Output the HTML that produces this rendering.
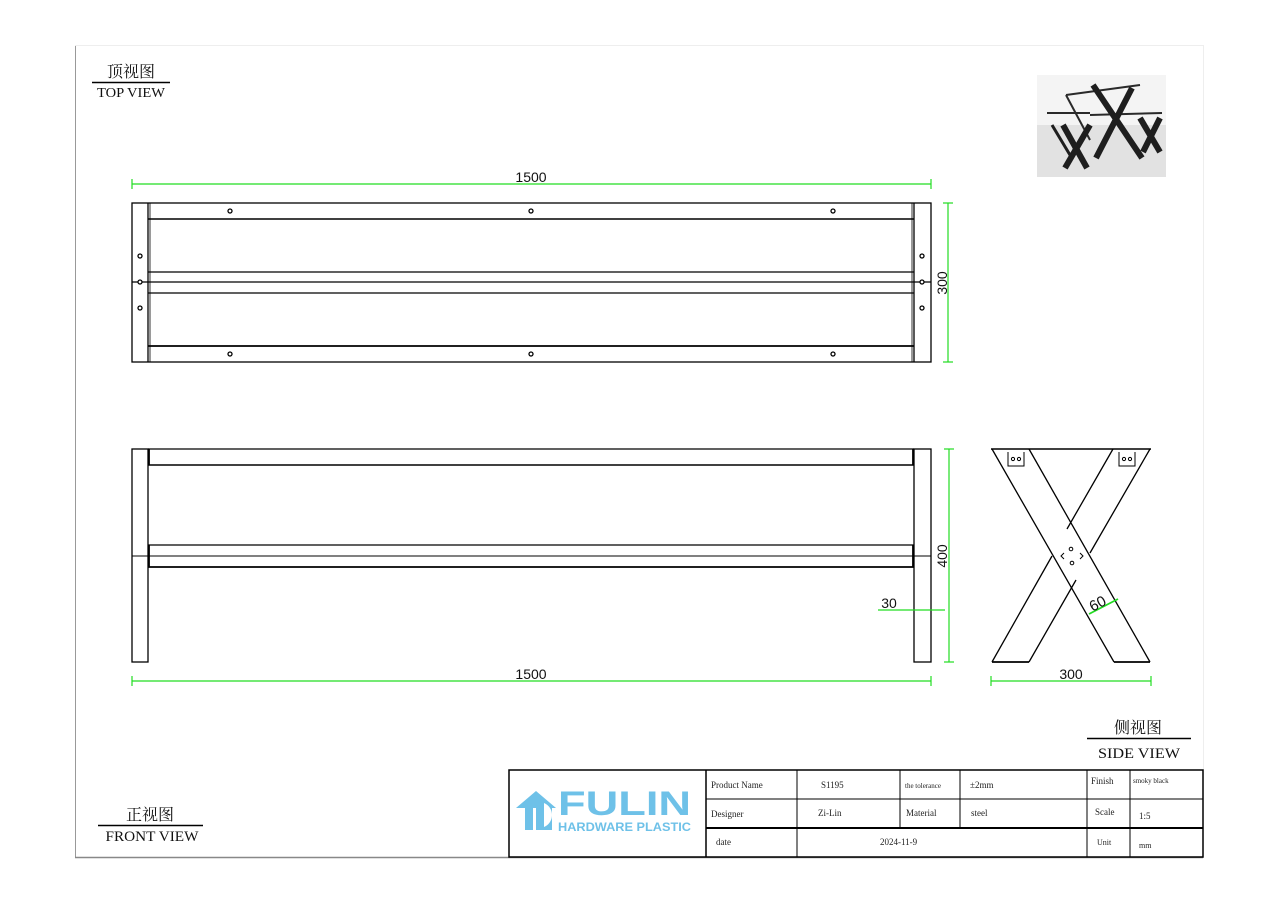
<!DOCTYPE html>
<html><head><meta charset="utf-8"><style>
html,body{margin:0;padding:0;background:#fff;}
svg{display:block;}
</style></head><body>
<svg width="1280" height="905" viewBox="0 0 1280 905" xmlns="http://www.w3.org/2000/svg" font-family="Liberation Sans, sans-serif">
<rect width="1280" height="905" fill="#fff"/>
<line x1="75.5" y1="45" x2="75.5" y2="857" stroke="#999" stroke-width="1"/>
<line x1="75" y1="45.5" x2="1203" y2="45.5" stroke="#eee" stroke-width="1"/>
<line x1="75" y1="857.5" x2="1203" y2="857.5" stroke="#888" stroke-width="1.5"/>
<line x1="1203.5" y1="45" x2="1203.5" y2="770" stroke="#eee" stroke-width="1"/>

<g font-family="Liberation Serif, Noto Serif CJK SC, serif" fill="#111">
<text x="131" y="77" font-size="16" text-anchor="middle" font-family="Noto Serif CJK SC, serif">顶视图</text>
<line x1="92" y1="82.5" x2="170" y2="82.5" stroke="#000" stroke-width="1.5"/>
<text x="131" y="97" font-size="14" text-anchor="middle" textLength="68" lengthAdjust="spacingAndGlyphs">TOP VIEW</text>
<text x="1138" y="733" font-size="16" text-anchor="middle" font-family="Noto Serif CJK SC, serif">侧视图</text>
<line x1="1087" y1="738.5" x2="1191" y2="738.5" stroke="#000" stroke-width="1.5"/>
<text x="1139" y="758" font-size="15" text-anchor="middle" textLength="82" lengthAdjust="spacingAndGlyphs">SIDE VIEW</text>
<text x="150" y="820" font-size="16" text-anchor="middle" font-family="Noto Serif CJK SC, serif">正视图</text>
<line x1="98" y1="825.5" x2="203" y2="825.5" stroke="#000" stroke-width="1.5"/>
<text x="152" y="841" font-size="15" text-anchor="middle" textLength="93" lengthAdjust="spacingAndGlyphs">FRONT VIEW</text>
</g>

<!-- photo -->
<g>
<rect x="1037" y="75" width="129" height="102" fill="#f4f4f4"/>
<rect x="1037" y="125" width="129" height="52" fill="#e2e2e2"/>
<g stroke="#2a2a2a" stroke-width="2" fill="none">
<line x1="1066" y1="95" x2="1140" y2="85"/>
<line x1="1047" y1="113" x2="1090" y2="113"/>
<line x1="1090" y1="115" x2="1162" y2="113"/>
<line x1="1066" y1="95" x2="1090" y2="140"/>
</g>
<g stroke="#1e1e1e" stroke-width="6" fill="none" stroke-linecap="butt">
<line x1="1093" y1="85" x2="1142" y2="158"/>
<line x1="1132" y1="88" x2="1096" y2="158"/>
<line x1="1063" y1="125" x2="1087" y2="168"/>
<line x1="1090" y1="125" x2="1065" y2="168"/>
<line x1="1140" y1="118" x2="1160" y2="152"/>
<line x1="1160" y1="118" x2="1143" y2="152"/>
<line x1="1052" y1="125" x2="1070" y2="155" stroke-width="3"/>
</g>
</g>

<!-- TOP VIEW -->
<g stroke="#000" fill="none" stroke-width="1.3">
<rect x="132" y="203" width="799" height="159"/>
<line x1="148" y1="203" x2="148" y2="362"/>
<line x1="150" y1="203" x2="150" y2="362" stroke-width="0.8"/>
<line x1="914" y1="203" x2="914" y2="362"/>
<line x1="912" y1="203" x2="912" y2="362" stroke-width="0.8"/>
<line x1="148" y1="219" x2="914" y2="219" stroke-width="1.6"/>
<line x1="148" y1="272" x2="914" y2="272"/>
<line x1="132" y1="282" x2="931" y2="282"/>
<line x1="148" y1="293" x2="914" y2="293"/>
<line x1="148" y1="346" x2="914" y2="346" stroke-width="1.8"/>
</g>
<g stroke="#000" fill="#fff" stroke-width="1.3">
<circle cx="230" cy="211" r="2"/><circle cx="531" cy="211" r="2"/><circle cx="833" cy="211" r="2"/>
<circle cx="230" cy="354" r="2"/><circle cx="531" cy="354" r="2"/><circle cx="833" cy="354" r="2"/>
<circle cx="140" cy="256" r="2"/><circle cx="140" cy="282" r="2"/><circle cx="140" cy="308" r="2"/>
<circle cx="922" cy="256" r="2"/><circle cx="922" cy="282" r="2"/><circle cx="922" cy="308" r="2"/>
</g>

<!-- FRONT VIEW -->
<g stroke="#000" fill="none" stroke-width="1.3">
<rect x="132" y="449" width="16" height="213"/>
<rect x="914" y="449" width="17" height="213"/>
<line x1="148" y1="449" x2="914" y2="449"/>
<line x1="148" y1="465" x2="914" y2="465" stroke-width="1.6"/>
<line x1="149" y1="449" x2="149" y2="465" stroke-width="1.8"/>
<line x1="913" y1="449" x2="913" y2="465" stroke-width="1.8"/>
<line x1="148" y1="545" x2="914" y2="545"/>
<line x1="132" y1="556" x2="931" y2="556" stroke-width="1"/>
<line x1="148" y1="567" x2="914" y2="567" stroke-width="1.8"/>
<line x1="149" y1="545" x2="149" y2="567" stroke-width="1.8"/>
<line x1="913" y1="545" x2="913" y2="567" stroke-width="1.8"/>
</g>

<!-- SIDE VIEW -->
<g stroke="#000" fill="none" stroke-width="1.3">
<line x1="991" y1="449" x2="1151" y2="449" stroke-width="1.6"/>
<line x1="992" y1="449" x2="1114" y2="662"/>
<line x1="1029" y1="449" x2="1150" y2="662"/>
<line x1="1113" y1="449" x2="1067" y2="529"/>
<line x1="1150" y1="449" x2="1090" y2="553"/>
<line x1="1052" y1="556" x2="992" y2="662"/>
<line x1="1076" y1="580" x2="1029" y2="662"/>
<line x1="992" y1="662" x2="1029" y2="662" stroke-width="1.8"/>
<line x1="1114" y1="662" x2="1150" y2="662" stroke-width="1.8"/>
<path d="M1008 452v14h16v-14" stroke-width="1"/>
<path d="M1119 452v14h16v-14" stroke-width="1"/>
<circle cx="1013" cy="459" r="1.6" stroke-width="1"/><circle cx="1019" cy="459" r="1.6" stroke-width="1"/>
<circle cx="1124" cy="459" r="1.6" stroke-width="1"/><circle cx="1130" cy="459" r="1.6" stroke-width="1"/>
<path d="M1064 553l-3 3 3 3M1080 553l3 3-3 3" stroke-width="1"/>
<circle cx="1071" cy="549" r="1.8" stroke-width="1"/><circle cx="1072" cy="563" r="1.8" stroke-width="1"/>
</g>

<!-- DIMENSIONS -->
<g stroke="#22dd22" stroke-width="1.2" fill="none">
<line x1="132" y1="184" x2="931" y2="184"/>
<line x1="132" y1="179" x2="132" y2="189"/><line x1="931" y1="179" x2="931" y2="189"/>
<line x1="948" y1="203" x2="948" y2="362"/>
<line x1="943" y1="203" x2="953" y2="203"/><line x1="943" y1="362" x2="953" y2="362"/>
<line x1="949" y1="449" x2="949" y2="662"/>
<line x1="944" y1="449" x2="954" y2="449"/><line x1="944" y1="662" x2="954" y2="662"/>
<line x1="132" y1="681" x2="931" y2="681"/>
<line x1="132" y1="676" x2="132" y2="686"/><line x1="931" y1="676" x2="931" y2="686"/>
<line x1="878" y1="610" x2="945" y2="610"/>
<line x1="991" y1="681" x2="1151" y2="681"/>
<line x1="991" y1="676" x2="991" y2="686"/><line x1="1151" y1="676" x2="1151" y2="686"/>
<line x1="1089" y1="614" x2="1118" y2="599" stroke-width="1.8"/>
</g>
<g fill="#111" font-size="14">
<text x="531" y="182" text-anchor="middle">1500</text>
<text x="531" y="679" text-anchor="middle">1500</text>
<text x="1071" y="679" text-anchor="middle">300</text>
<text x="889" y="608" text-anchor="middle">30</text>
<text transform="translate(947,283) rotate(-90)" text-anchor="middle">300</text>
<text transform="translate(947,556) rotate(-90)" text-anchor="middle">400</text>
<text transform="translate(1100,608) rotate(-28)" text-anchor="middle" font-size="15">60</text>
</g>

<!-- TITLE BLOCK -->
<g stroke="#000" fill="none" stroke-width="1.5">
<rect x="509" y="770" width="694" height="87"/>
<line x1="706" y1="770" x2="706" y2="857"/>
<line x1="706" y1="799" x2="1203" y2="799" stroke-width="1"/>
<line x1="706" y1="828" x2="1203" y2="828" stroke-width="2"/>
<line x1="797" y1="770" x2="797" y2="857" stroke-width="1"/>
<line x1="900" y1="770" x2="900" y2="828" stroke-width="1"/>
<line x1="960" y1="770" x2="960" y2="828" stroke-width="1"/>
<line x1="1087" y1="770" x2="1087" y2="857" stroke-width="1"/>
<line x1="1130" y1="770" x2="1130" y2="857" stroke-width="1"/>
</g>
<g fill="#222" font-family="Liberation Serif, serif" font-size="9">
<text x="711" y="788">Product Name</text>
<text x="821" y="788">S1195</text>
<text x="905" y="788" font-size="7">the tolerance</text>
<text x="970" y="788">±2mm</text>
<text x="1091" y="784">Finish</text>
<text x="1133" y="783" font-size="7">smoky black</text>
<text x="711" y="817">Designer</text>
<text x="818" y="816">Zi-Lin</text>
<text x="906" y="816">Material</text>
<text x="971" y="816">steel</text>
<text x="1095" y="815">Scale</text>
<text x="1139" y="819">1:5</text>
<text x="716" y="845">date</text>
<text x="880" y="845">2024-11-9</text>
<text x="1097" y="845" font-size="8">Unit</text>
<text x="1139" y="848" font-size="8">mm</text>
</g>
<!-- logo -->
<g fill="#6ec1e8">
<path d="M516 808l20-17 20 17h-4v22h-8v-3a13 13 0 0 0 0-24v27h-8v-22h-3v22h-8v-22z"/>
<text x="558" y="815" font-size="34" font-weight="bold" textLength="133" lengthAdjust="spacingAndGlyphs">FULIN</text>
<text x="558" y="831" font-size="12" font-weight="bold" textLength="133" lengthAdjust="spacingAndGlyphs">HARDWARE PLASTIC</text>
</g>
</svg>
</body></html>
